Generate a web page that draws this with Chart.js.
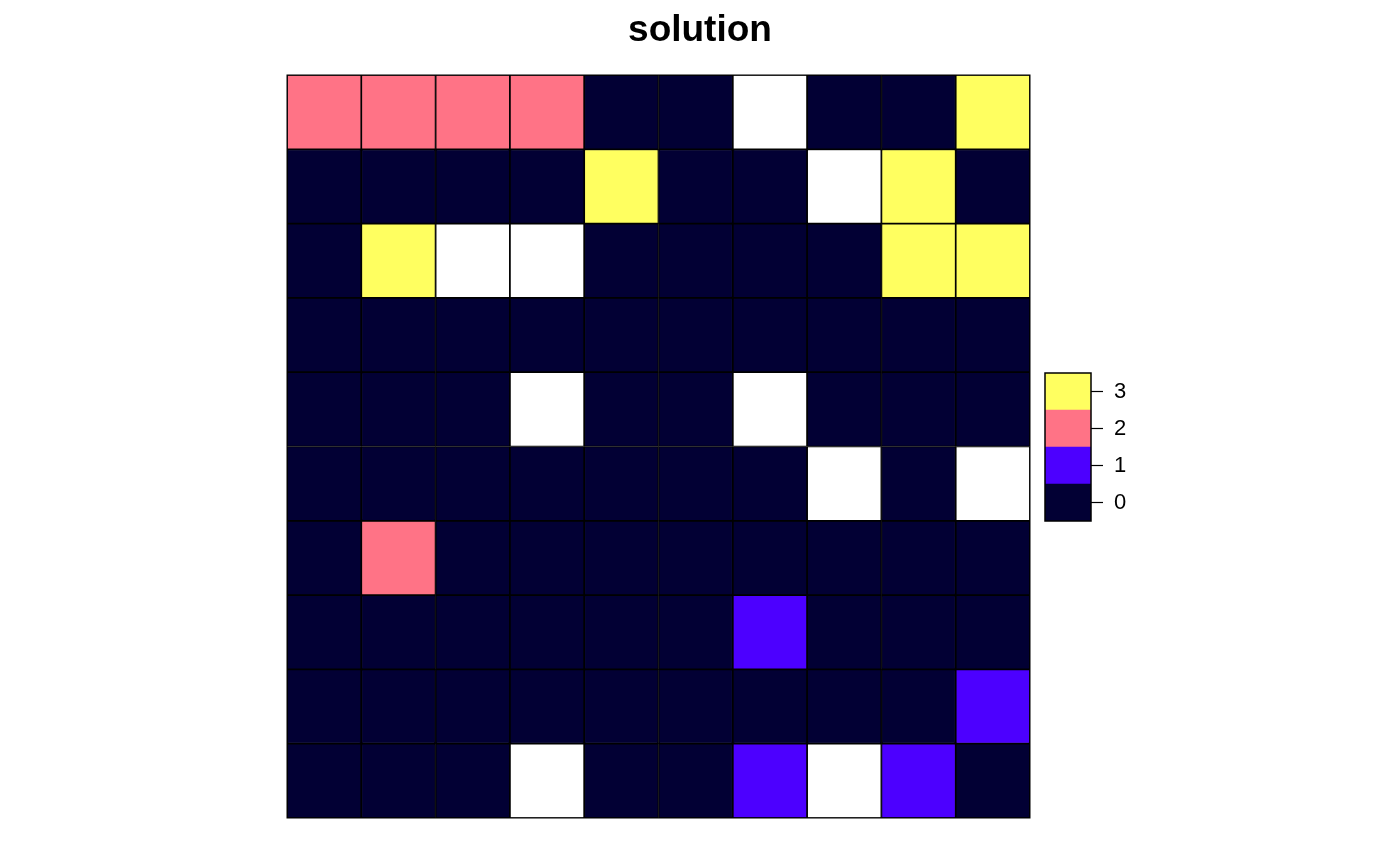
<!DOCTYPE html>
<html>
<head>
<meta charset="utf-8">
<script src="https://cdn.jsdelivr.net/npm/chart.js@4/dist/chart.umd.min.js"></script>
<style>
  body { margin: 0; background: #fff; }
  #wrap { position: relative; width: 1400px; height: 866px; }
  #title { position: absolute; left: 0; top: 8px; width: 1400px; text-align: center;
           font: bold 37px "Liberation Sans", Arial, sans-serif; color: #000; }
  #gridChart { position: absolute; left: 0; top: 0; }
  #keyChart { position: absolute; left: 1030px; top: 360px; }
</style>
</head>
<body>
<div id="wrap">
  <canvas id="gridChart" width="1400" height="866"></canvas>
  <canvas id="keyChart" width="130" height="180"></canvas>
  <div id="title">solution</div>
</div>
<script>
// valores de la cuadrícula, fila superior primero (null = sin dato)
const columns = ['1', '2', '3', '4', '5', '6', '7', '8', '9', '10'];
const rows = [
    [2, 2, 2, 2, 0, 0, null, 0, 0, 3],
    [0, 0, 0, 0, 3, 0, 0, null, 3, 0],
    [0, 3, null, null, 0, 0, 0, 0, 3, 3],
    [0, 0, 0, 0, 0, 0, 0, 0, 0, 0],
    [0, 0, 0, null, 0, 0, null, 0, 0, 0],
    [0, 0, 0, 0, 0, 0, 0, null, 0, null],
    [0, 2, 0, 0, 0, 0, 0, 0, 0, 0],
    [0, 0, 0, 0, 0, 0, 1, 0, 0, 0],
    [0, 0, 0, 0, 0, 0, 0, 0, 0, 1],
    [0, 0, 0, null, 0, 0, 1, null, 1, 0]
];
const levels = [0, 1, 2, 3];
const palette = ['#020034', '#4C00FF', '#FF7386', '#FFFF60'];
const naColor = '#FFFFFF';

function cellColor(v) {
    return v === null ? naColor : palette[levels.indexOf(v)];
}

// Cuadrícula: barras apiladas, una serie por fila
new Chart(document.getElementById('gridChart'), {
    type: 'bar',
    data: {
        labels: columns,
        datasets: rows.map(function(row, i) {
            return {
                label: 'fila ' + (i + 1),
                data: row.map(function() { return 1; }),
                backgroundColor: row.map(cellColor),
                borderColor: '#000',
                borderWidth: 1.2,
                borderSkipped: false,
                barPercentage: 1,
                categoryPercentage: 1
            };
        })
    },
    options: {
        responsive: false,
        animation: false,
        layout: { padding: { left: 287, right: 370, top: 75, bottom: 48 } },
        scales: {
            x: { stacked: true, display: false },
            y: { stacked: true, display: false, reverse: true, min: 0, max: rows.length }
        },
        plugins: { legend: { display: false }, tooltip: { enabled: false } }
    },
    plugins: [{
        id: 'frame',
        afterDatasetsDraw: function(chart) {
            const a = chart.chartArea, ctx = chart.ctx;
            ctx.save();
            ctx.strokeStyle = '#000';
            ctx.lineWidth = 1;
            ctx.strokeRect(a.left, a.top, a.right - a.left, a.bottom - a.top);
            ctx.restore();
        }
    }]
});

// Leyenda de colores
new Chart(document.getElementById('keyChart'), {
    type: 'bar',
    data: {
        labels: [''],
        datasets: levels.map(function(lv, i) {
            return {
                label: String(lv),
                data: [1],
                backgroundColor: palette[i],
                borderWidth: 0,
                barPercentage: 1,
                categoryPercentage: 1
            };
        })
    },
    options: {
        responsive: false,
        animation: false,
        layout: { padding: { left: 15, right: 9, top: 13, bottom: 19 } },
        scales: {
            x: { stacked: true, display: false },
            y: {
                stacked: true,
                position: 'right',
                min: 0,
                max: levels.length,
                afterFit: function(scale) {
                    scale.width = 60;
                    scale.paddingTop = 0;
                    scale.paddingBottom = 0;
                },
                afterBuildTicks: function(scale) {
                    scale.ticks = levels.map(function(lv, i) { return { value: i + 0.5 }; });
                },
                ticks: {
                    padding: 11,
                    color: '#000',
                    font: { family: '"Liberation Sans", Arial, sans-serif', size: 22 },
                    callback: function(value) { return String(levels[Math.floor(value)]); }
                },
                grid: { drawOnChartArea: false, tickLength: 12, tickColor: '#000', tickWidth: 1.2 },
                border: { display: false }
            }
        },
        plugins: { legend: { display: false }, tooltip: { enabled: false } }
    },
    plugins: [{
        id: 'keyFrame',
        afterDatasetsDraw: function(chart) {
            const a = chart.chartArea, ctx = chart.ctx;
            ctx.save();
            ctx.strokeStyle = '#000';
            ctx.lineWidth = 1.5;
            ctx.strokeRect(a.left, a.top, a.right - a.left, a.bottom - a.top);
            ctx.restore();
        }
    }]
});
</script>
</body>
</html>
